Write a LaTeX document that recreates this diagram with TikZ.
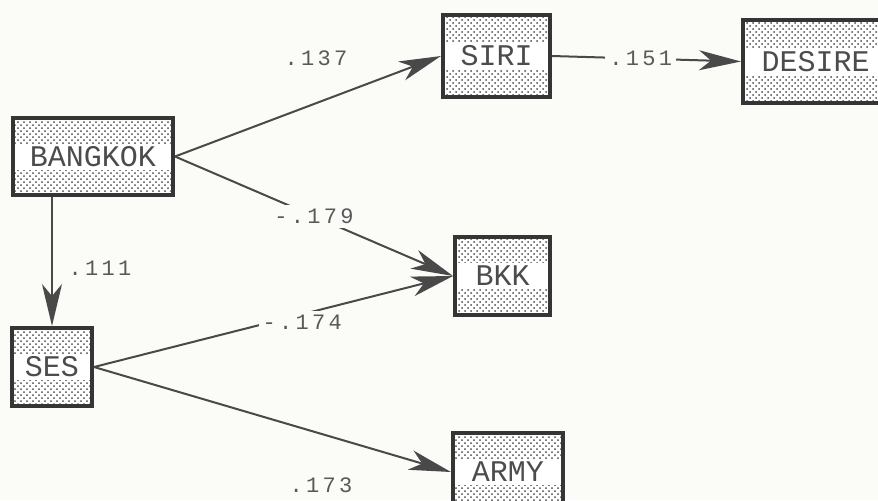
\documentclass[tikz,border=0pt]{standalone}
\usepackage{fontspec}
\usepackage{tikz}
\usepackage{xcolor}
\usetikzlibrary{arrows.meta,positioning,calc,patterns}
\setmonofont{Liberation Mono}
\newfontfamily\coeffont[LetterSpace=15]{Liberation Mono}
\definecolor{paper}{HTML}{FBFBF8}
\definecolor{ink}{HTML}{353535}
\definecolor{dotgray}{HTML}{4A4A4A}

\begin{document}
\begin{tikzpicture}[x=0.5pt, y=-0.5pt,
    box/.style={draw=ink, line width=2pt, fill=white, inner sep=0pt,
        font=\ttfamily\fontsize{15}{15}\selectfont, text=black!70,
        path picture={
            \fill[pattern=crosshatch dots, pattern color=dotgray]
                (path picture bounding box.south west) rectangle (path picture bounding box.north east);
            \fill[white] ($(path picture bounding box.west)+(0,-6.5pt)$)
                rectangle ($(path picture bounding box.east)+(0,6.5pt)$);
        }},
    effect/.style={draw=ink!90, line width=1pt, -{Stealth[length=21pt, width=10pt, inset=6pt]}},
    coef/.style={font=\coeffont\fontsize{11}{11}\selectfont, text=black!65, inner sep=2pt}]
            \useasboundingbox (0,0) rectangle (878,500);
            \fill[paper] (0,0) rectangle (878,500);
            \clip (0,0) rectangle (878,500);
            % variables
            \node (bangkok) at (93,156.5) [box, minimum width=80pt, minimum height=38.5pt] {BANGKOK};
            \node (siri) at (496.5,56) [box, minimum width=53.5pt, minimum height=41pt] {SIRI};
            \node (desire) at (815.5,61.5) [box, minimum width=72.5pt, minimum height=41.5pt] {DESIRE};
            \node (bkk) at (502.5,276) [box, minimum width=47.5pt, minimum height=39pt] {BKK};
            \node (ses) at (52,367) [box, minimum width=40pt, minimum height=39pt] {SES};
            \node (army) at (508,472) [box, minimum width=55pt, minimum height=39pt] {ARMY};
            % paths
            \draw[effect] (bangkok.east) -- (siri.west);
            \node (c137) at (316,58) [coef] {.137};
            \draw[effect] (siri.east) -- node[coef, fill=paper, pos=0.47] {.151} (desire.west);
            \draw[effect] (bangkok.east) -- node[coef, fill=paper] {-.179} (bkk.west);
            \draw[effect] (ses.north |- bangkok.south) -- (ses.north);
            \node (c111) at (100,268) [coef] {.111};
            \draw[effect] (ses.east) -- node[coef, fill=paper, pos=0.58, yshift=-4pt] {-.174} (bkk.west);
            \draw[effect] (ses.east) -- (army.west);
            \node (c173) at (321,485) [coef] {.173};
        \end{tikzpicture}
\end{document}
